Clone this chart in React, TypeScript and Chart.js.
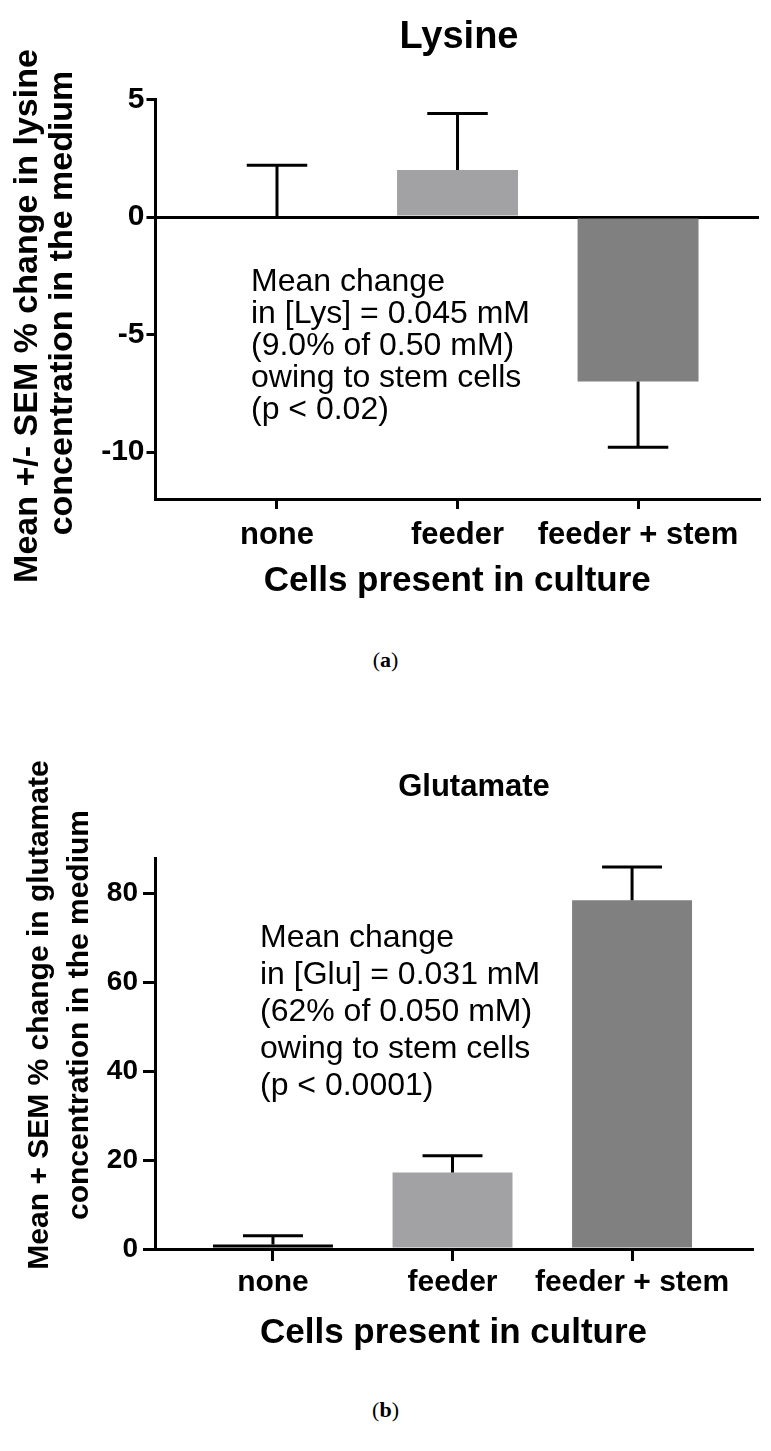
import React, { useEffect, useRef } from "react";
import { Chart, registerables } from "chart.js";

Chart.register(...registerables);

const FONT = '"Liberation Sans", Arial, Helvetica, sans-serif';

// ---- data ----
const categories = ["none", "feeder", "feeder + stem"];
const barColors = ["#000000", "#a2a2a5", "#808080"];

const lysineMeans = [0, 2.0, -7.0];
const lysineSemEnds = [2.2, 4.4, -9.8];
const lysineTicks = [5, 0, -5, -10];
const lysineYTitle = ["Mean +/- SEM % change in lysine", "concentration in the medium"];
const lysineNote = [
  "Mean change",
  "in [Lys] = 0.045 mM",
  "(9.0% of 0.50 mM)",
  "owing to stem cells",
  "(p < 0.02)",
];

const glutamateMeans = [1.0, 17.2, 78.5];
const glutamateSemEnds = [3.0, 21.0, 86.0];
const glutamateTicks = [0, 20, 40, 60, 80];
const glutamateYTitle = ["Mean + SEM % change in glutamate", "concentration in the medium"];
const glutamateNote = [
  "Mean change",
  "in [Glu] = 0.031 mM",
  "(62% of 0.050 mM)",
  "owing to stem cells",
  "(p < 0.0001)",
];

const xAxisTitle = "Cells present in culture";

function makeErrorPlugin(means: number[], ends: number[]) {
  return {
    id: "errorBars",
    afterDatasetsDraw(chart: any) {
      const { ctx } = chart;
      const meta = chart.getDatasetMeta(0);
      const xs = chart.scales.x;
      const ys = chart.scales.y;
      ctx.save();
      ctx.strokeStyle = "#000";
      ctx.lineWidth = 3;
      ctx.lineCap = "butt";
      means.forEach((m, i) => {
        const bar = meta.data[i];
        const px = xs.getPixelForValue(i);
        const y0 = ys.getPixelForValue(m);
        const y1 = ys.getPixelForValue(ends[i]);
        const half = (bar && bar.width ? bar.width : 120) / 4;
        ctx.beginPath();
        ctx.moveTo(px, y0);
        ctx.lineTo(px, y1);
        ctx.moveTo(px - half, y1);
        ctx.lineTo(px + half, y1);
        ctx.stroke();
      });
      ctx.restore();
    },
  };
}

type TextSpec = {
  title: string;
  titleSize: number;
  titleX: number;
  titleBaseline: number;
  yTitle: string[];
  yTitleSize: number;
  yTitleXs: number[];
  yTitleCenters: number[];
  note: string[];
  noteX: number;
  noteY: number;
  noteLH: number;
  noteSize: number;
};

function makeTextPlugin(t: TextSpec) {
  return {
    id: "texts",
    afterDraw(chart: any) {
      const ctx = chart.ctx;
      ctx.save();
      ctx.fillStyle = "#000";
      // chart title
      ctx.font = `bold ${t.titleSize}px ${FONT}`;
      ctx.textAlign = "center";
      ctx.textBaseline = "alphabetic";
      ctx.fillText(t.title, t.titleX, t.titleBaseline);
      // rotated y-axis title
      ctx.font = `bold ${t.yTitleSize}px ${FONT}`;
      t.yTitle.forEach((line, i) => {
        ctx.save();
        ctx.translate(t.yTitleXs[i], t.yTitleCenters[i]);
        ctx.rotate(-Math.PI / 2);
        ctx.textAlign = "center";
        ctx.textBaseline = "alphabetic";
        ctx.fillText(line, 0, 0);
        ctx.restore();
      });
      // annotation
      ctx.font = `${t.noteSize}px ${FONT}`;
      ctx.textAlign = "left";
      ctx.textBaseline = "alphabetic";
      t.note.forEach((line, i) => ctx.fillText(line, t.noteX, t.noteY + i * t.noteLH));
      ctx.restore();
    },
  };
}

type Spec = {
  text: TextSpec;
  plotTop: number;
  means: number[];
  ends: number[];
  yMin: number;
  yMax: number;
  yTicks: number[];
  yTickSize: number;
  yTickLen: number;
  yTickPad: number;
  yWidth: number;
  xMin: number;
  xMax: number;
  xTickSize: number;
  xTickLen: number;
  xTickPad: number;
  xHeight: number;
  xTitleSize: number;
  xTitlePad: number;
  padRight: number;
  barPct: number;
  zeroLine: boolean;
};

function buildConfig(s: Spec): any {
  return {
    type: "bar",
    data: {
      datasets: [
        {
          data: categories.map((_, i) => ({ x: i, y: s.means[i] })),
          backgroundColor: barColors,
          borderWidth: 0,
          barPercentage: s.barPct,
          categoryPercentage: 1,
        },
      ],
    },
    plugins: [makeErrorPlugin(s.means, s.ends), makeTextPlugin(s.text)],
    options: {
      responsive: false,
      animation: false,
      devicePixelRatio: 1,
      layout: { padding: { left: 0, right: s.padRight, top: s.plotTop, bottom: 0 } },
      plugins: {
        legend: { display: false },
        tooltip: { enabled: false },
        title: { display: false },
      },
      scales: {
        x: {
          type: "linear",
          min: s.xMin,
          max: s.xMax,
          offset: false,
          afterBuildTicks: (scale: any) => {
            scale.ticks = categories.map((_, i) => ({ value: i }));
          },
          afterFit: (scale: any) => {
            scale.height = s.xHeight;
          },
          ticks: {
            autoSkip: false,
            maxRotation: 0,
            minRotation: 0,
            color: "#000",
            padding: s.xTickPad,
            font: { family: FONT, size: s.xTickSize, weight: "bold" },
            callback: (v: number) => categories[v] ?? "",
          },
          grid: {
            display: true,
            offset: false,
            drawOnChartArea: false,
            drawTicks: true,
            tickLength: s.xTickLen,
            tickColor: "#000",
            lineWidth: 3,
          },
          border: { display: true, color: "#000", width: 3 },
          title: {
            display: true,
            text: xAxisTitle,
            color: "#000",
            font: { family: FONT, size: s.xTitleSize, weight: "bold", lineHeight: 1.2 },
            padding: { top: 0, bottom: s.xTitlePad },
          },
        },
        y: {
          type: "linear",
          min: s.yMin,
          max: s.yMax,
          afterBuildTicks: (scale: any) => {
            scale.ticks = s.yTicks.map((v) => ({ value: v }));
          },
          afterFit: (scale: any) => {
            scale.width = s.yWidth;
          },
          ticks: {
            color: "#000",
            padding: s.yTickPad,
            font: { family: FONT, size: s.yTickSize, weight: "bold" },
            callback: (v: number) => String(v),
          },
          grid: {
            display: true,
            drawOnChartArea: s.zeroLine,
            drawTicks: true,
            tickLength: s.yTickLen,
            tickColor: "#000",
            color: (ctx: any) =>
              ctx.tick && ctx.tick.value === 0 ? "#000" : "rgba(0,0,0,0)",
            lineWidth: 3,
          },
          border: { display: true, color: "#000", width: 3 },
          title: { display: false },
        },
      },
    },
  };
}

const lysineSpec: Spec = {
  text: {
    title: "Lysine",
    titleSize: 38,
    titleX: 459,
    titleBaseline: 48,
    yTitle: lysineYTitle,
    yTitleSize: 34,
    yTitleXs: [37, 72],
    yTitleCenters: [316, 303],
    note: lysineNote,
    noteX: 251,
    noteY: 291,
    noteLH: 32,
    noteSize: 32,
  },
  plotTop: 99.5,
  means: lysineMeans,
  ends: lysineSemEnds,
  yMin: -12,
  yMax: 5,
  yTicks: lysineTicks,
  yTickSize: 30,
  yTickLen: 9,
  yTickPad: 2,
  yWidth: 155.5,
  xMin: -0.673,
  xMax: 2.67,
  xTickSize: 31,
  xTickLen: 10,
  xTickPad: 8,
  xHeight: 121,
  xTitleSize: 35,
  xTitlePad: 18,
  padRight: 12,
  barPct: 0.67,
  zeroLine: true,
};

const glutamateSpec: Spec = {
  text: {
    title: "Glutamate",
    titleSize: 31,
    titleX: 474,
    titleBaseline: 96,
    yTitle: glutamateYTitle,
    yTitleSize: 30,
    yTitleXs: [48, 88],
    yTitleCenters: [315, 315],
    note: glutamateNote,
    noteX: 260,
    noteY: 247,
    noteLH: 37,
    noteSize: 32,
  },
  plotTop: 158,
  means: glutamateMeans,
  ends: glutamateSemEnds,
  yMin: 0,
  yMax: 88,
  yTicks: glutamateTicks,
  yTickSize: 28,
  yTickLen: 12,
  yTickPad: 5,
  yWidth: 155,
  xMin: -0.657,
  xMax: 2.668,
  xTickSize: 30,
  xTickLen: 12,
  xTickPad: 4,
  xHeight: 131,
  xTitleSize: 35,
  xTitlePad: 26,
  padRight: 19,
  barPct: 0.668,
  zeroLine: false,
};

function BarPanel({ spec, top, height }: { spec: Spec; top: number; height: number }) {
  const ref = useRef<HTMLCanvasElement | null>(null);
  useEffect(() => {
    if (!ref.current) return;
    const chart = new Chart(ref.current, buildConfig(spec));
    return () => chart.destroy();
  }, [spec]);
  return (
    <canvas
      ref={ref}
      width={771}
      height={height}
      style={{ position: "absolute", left: 0, top, width: 771, height }}
    />
  );
}

const captionStyle: React.CSSProperties = {
  position: "absolute",
  left: 0,
  width: 771,
  textAlign: "center",
  fontFamily: '"Liberation Serif", "DejaVu Serif", serif',
  fontSize: 22,
  color: "#000",
  lineHeight: "26px",
};

export default function App() {
  return (
    <div
      style={{
        position: "absolute",
        left: 0,
        top: 0,
        width: 771,
        height: 1451,
        background: "#fff",
        overflow: "hidden",
      }}
    >
      <BarPanel spec={lysineSpec} top={0} height={620} />
      <div style={{ ...captionStyle, top: 647 }}>
        (<b>a</b>)
      </div>
      <BarPanel spec={glutamateSpec} top={700} height={680} />
      <div style={{ ...captionStyle, top: 1397 }}>
        (<b>b</b>)
      </div>
    </div>
  );
}
